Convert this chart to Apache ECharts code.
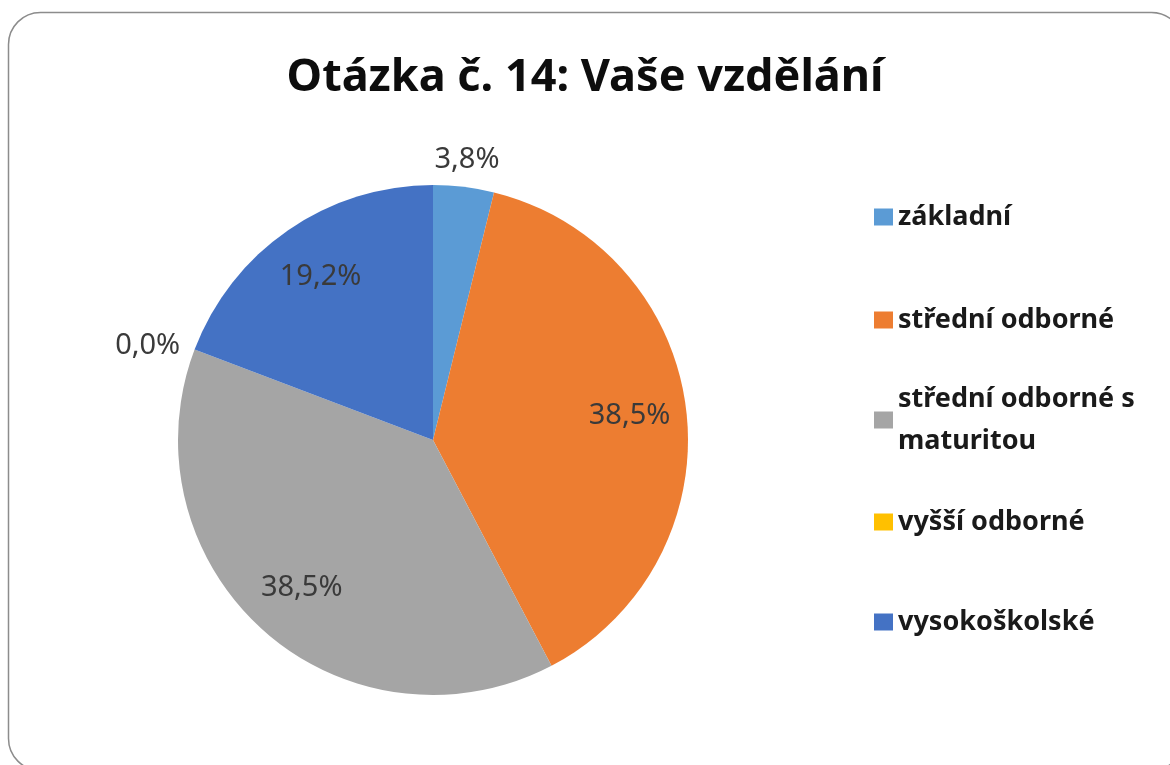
<!DOCTYPE html>
<html>
<head>
<meta charset="utf-8">
<script src="https://cdn.jsdelivr.net/npm/echarts@6/dist/echarts.min.js"></script>
<style>
  html, body { margin: 0; padding: 0; background: #fff; }
  #main { width: 1170px; height: 765px; }
</style>
</head>
<body>
<div id="main"></div>
<script>
// data (counts giving 3,8 / 38,5 / 38,5 / 0,0 / 19,2 %)
const categories = ['základní', 'střední odborné', 'střední odborné s maturitou', 'vyšší odborné', 'vysokoškolské'];
const counts = [1, 10, 10, 0, 5];
const titleText = 'Otázka č. 14: Vaše vzdělání';

const palette = ['#5B9BD5', '#ED7D31', '#A5A5A5', '#FFC000', '#4472C4'];
const font = "'Noto Sans', sans-serif";

const total = counts.reduce((a, b) => a + b, 0);
const pctText = v => (v / total * 100).toFixed(1).replace('.', ',') + '%';

const cx = 433, cy = 440, R = 255;

const chart = echarts.init(document.getElementById('main'));

const baseData = categories.map((c, i) => ({ name: c, value: counts[i] }));

// labels inside the pie (and the zero slice, pulled outside)
const innerLabelData = categories.map((c, i) => {
    const share = counts[i] / total * 100;
    let label;
    if (share === 0) {
        label = { show: true, position: 'outside' };
    } else if (share < 5) {
        label = { show: false };
    } else {
        label = { show: true, position: 'inside' };
    }
    return { name: c, value: counts[i], label: label };
});
// small slices get their label above the rim
const outerLabelData = categories.map((c, i) => {
    const share = counts[i] / total * 100;
    return { name: c, value: counts[i], label: { show: share > 0 && share < 5 } };
});

const labelStyle = {
    formatter: p => pctText(p.value),
    color: '#3a3a3a',
    fontSize: 29,
    fontFamily: font
};

const hidden = {
    type: 'pie',
    center: [cx, cy],
    silent: true,
    avoidLabelOverlap: false,
    itemStyle: { color: 'rgba(0,0,0,0)', borderWidth: 0 },
    emphasis: { disabled: true },
    labelLine: { show: false, length: 10, length2: 0 }
};

// legend: one block per item so the rows stay on Excel's grid
const lineH = 42;
const rowY = [217, 320, 420, 522, 622];
const legends = categories.map((c, i) => {
    const twoLine = c === 'střední odborné s maturitou';
    return {
        data: [c],
        left: 874,
        top: twoLine ? rowY[i] - 1.5 * lineH : rowY[i] - lineH / 2,
        padding: 0,
        icon: 'rect',
        itemWidth: 19,
        itemHeight: 17,
        selectedMode: false,
        formatter: n => twoLine ? 'střední odborné s\nmaturitou' : n,
        textStyle: {
            fontSize: 27,
            fontWeight: 'bold',
            fontFamily: font,
            color: '#1a1a1a',
            lineHeight: lineH,
            padding: twoLine ? [lineH, 0, 0, 0] : 0
        }
    };
});

const option = {
    animation: false,
    color: palette,
    title: {
        text: titleText,
        left: 'center',
        top: 56,
        padding: 0,
        textStyle: { fontSize: 45, fontWeight: 'bold', fontFamily: font, color: '#0d0d0d' }
    },
    legend: legends,
    graphic: [{
        type: 'rect',
        shape: { x: 8.5, y: 12.5, width: 1175, height: 758, r: 32 },
        style: { fill: 'none', stroke: '#8c8c8c', lineWidth: 1.5 },
        silent: true
    }],
    series: [
        {
            type: 'pie',
            center: [cx, cy],
            radius: R,
            silent: true,
            label: { show: false },
            labelLine: { show: false },
            data: baseData
        },
        Object.assign({}, hidden, {
            radius: [135, R],
            label: labelStyle,
            data: innerLabelData
        }),
        Object.assign({}, hidden, {
            radius: [R, 303],
            label: Object.assign({ position: 'inside' }, labelStyle),
            data: outerLabelData
        })
    ]
};

chart.setOption(option);
</script>
</body>
</html>
